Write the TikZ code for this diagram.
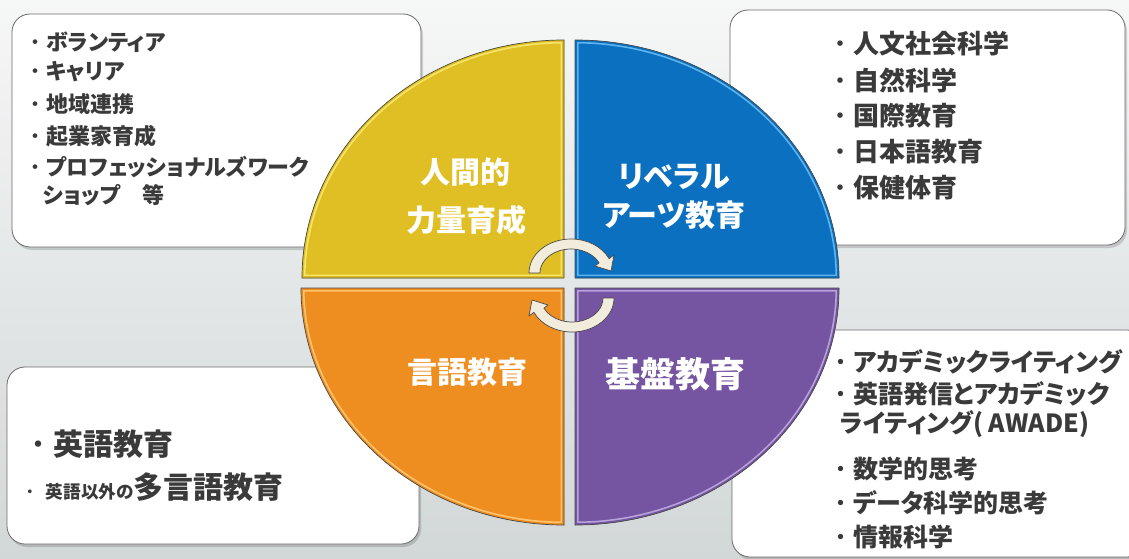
\documentclass[tikz,border=0pt]{standalone}
\usepackage{fontspec}
\newfontfamily\jp{Noto Sans CJK JP}[RawFeature=+palt]
\newfontfamily\jpw{Noto Sans CJK JP}
\usetikzlibrary{calc}
\definecolor{bgtop}{HTML}{F6F7F7}
\definecolor{bgbot}{HTML}{D2D7D8}
\definecolor{boxline}{HTML}{6A6A6A}
\definecolor{txtc}{HTML}{3A3A3A}
\definecolor{yel}{HTML}{DFBF23}
\definecolor{yelL}{HTML}{F7E56A}
\definecolor{blu}{HTML}{0A70BF}
\definecolor{bluL}{HTML}{5DB5F0}
\definecolor{ora}{HTML}{EF8E20}
\definecolor{oraL}{HTML}{FFC36E}
\definecolor{pur}{HTML}{7555A1}
\definecolor{purL}{HTML}{B7A2DB}
\definecolor{cream}{HTML}{F2ECDC}
\definecolor{qline}{HTML}{4A4A4A}
\newcommand\bul{{\jpw\mdseries ・}}
\newcommand\quadshape[3]{%
  \fill[#2] #1;
  \begin{scope}
    \clip #1;
    \draw[#3, line width=7pt] #1;
    \draw[#2, line width=3.6pt] #1;
  \end{scope}
  \draw[qline, line width=0.7pt, line join=round] #1;
}
\tikzset{
  infobox/.style={draw=boxline, line width=0.8pt, fill=white, rounded corners=18pt},
  boxshadow/.style={fill=black, opacity=0.15, rounded corners=18pt},
  txt/.style={anchor=west, inner sep=0pt, text=txtc, font={\jp\bfseries\fontsize{#1}{#1}\selectfont}},
  lbl/.style={inner sep=0pt, text=white, font={\jp\bfseries\fontsize{#1}{#1}\selectfont}},
  cyclearrow/.style={fill=cream, draw=qline, line width=0.7pt, line join=round}
}
\begin{document}
\begin{tikzpicture}[x=1pt,y=-1pt]
\useasboundingbox (0,0) rectangle (1129,559);
\begin{scope}
\clip (0,0) rectangle (1129,559);
\shade[top color=bgtop, bottom color=bgbot] (0,0) rectangle (1129,559);

% information boxes
\fill[boxshadow] (14,17) rectangle (423,250);
\draw[infobox] (12,14) rectangle (421,247);
\fill[boxshadow] (732,13) rectangle (1127,248);
\draw[infobox] (730,10) rectangle (1125,245);
\fill[boxshadow] (9,370) rectangle (421,547);
\draw[infobox] (7,367) rectangle (419,544);
\fill[boxshadow] (734,333) rectangle (1147,560);
\draw[infobox] (732,330) rectangle (1145,557);

% quadrants
\quadshape{(564,278) -- (302,278) arc[start angle=180, end angle=270, x radius=262, y radius=238] -- cycle}{yel}{yelL}
\quadshape{(575,278) -- (575,40) arc[start angle=270, end angle=360, x radius=264, y radius=238] -- cycle}{blu}{bluL}
\quadshape{(564,288) -- (301,288) arc[start angle=180, end angle=90, x radius=263, y radius=237] -- cycle}{ora}{oraL}
\quadshape{(575,288) -- (839,288) arc[start angle=0, end angle=90, x radius=264, y radius=237] -- cycle}{pur}{purL}

% cycle arrows
\path[cyclearrow] (571,273) ++(180:42 and 34) arc[start angle=180, end angle=335, x radius=42, y radius=34]
  -- (614,255) -- (611,271) -- (595,266) -- ($(571,273)+(335:31 and 24)$)
  arc[start angle=335, end angle=180, x radius=31, y radius=24] -- cycle;
\begin{scope}[rotate around={180:(571.5,285.5)}]
\path[cyclearrow] (571,273) ++(180:42 and 34) arc[start angle=180, end angle=335, x radius=42, y radius=34]
  -- (614,255) -- (611,271) -- (595,266) -- ($(571,273)+(335:31 and 24)$)
  arc[start angle=335, end angle=180, x radius=31, y radius=24] -- cycle;
\end{scope}

% quadrant labels
\node[lbl=30] (q1a) at (465,172) {人間的};
\node[lbl=30] (q1b) at (466,220) {力量育成};
\node[lbl=30] (q2a) at (674,177) {リベラル};
\node[lbl=30] (q2b) at (674,215) {アーツ教育};
\node[lbl=30] (q3) at (467,372) {言語教育};
\node[lbl=35] (q4) at (675,374) {基盤教育};

% top-left box
\node[txt=22] (tl1) at (24,42) {\bul ボランティア};
\node[txt=22] (tl2) at (24,72) {\bul キャリア};
\node[txt=22] (tl3) at (24,104) {\bul 地域連携};
\node[txt=22] (tl4) at (24,136) {\bul 起業家育成};
\node[txt=22] (tl5) at (24,167) {\bul プロフェッショナルズワーク};
\node[txt=22] (tl6) at (43,195) {ショップ　等};

% top-right box
\node[txt=26] (tr1) at (827,44) {\bul 人文社会科学};
\node[txt=26] (tr2) at (827,80) {\bul 自然科学};
\node[txt=26] (tr3) at (827,116) {\bul 国際教育};
\node[txt=26] (tr4) at (827,152) {\bul 日本語教育};
\node[txt=26] (tr5) at (827,188) {\bul 保健体育};

% bottom-left box
\node[txt=30] (bl1) at (23,444) {\bul 英語教育};
\node[txt=30, anchor=base west] (bl2) at (21,498) {{\fontsize{17.6}{20}\selectfont\bul\hspace{7pt}英語以外の}多言語教育};

% bottom-right box
\node[txt=25] (br1) at (828,362) {\bul アカデミックライティング};
\node[txt=25] (br2) at (828,394) {\bul 英語発信とアカデミック};
\node[txt=25] (br3) at (840,424) {ライティング( AWADE)};
\node[txt=25] (br4) at (828,469) {\bul 数学的思考};
\node[txt=25] (br5) at (828,503) {\bul データ科学的思考};
\node[txt=25] (br6) at (828,537) {\bul 情報科学};
\end{scope}
\end{tikzpicture}
\end{document}
